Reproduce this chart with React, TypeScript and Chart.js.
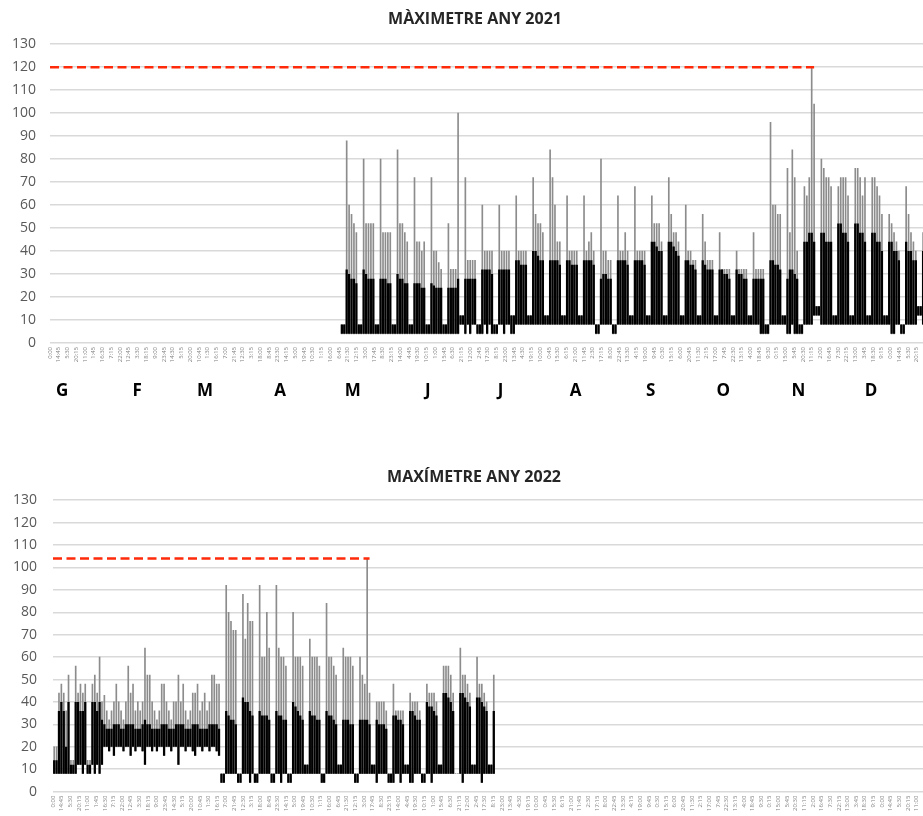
import React, { useEffect, useRef } from 'react';
import { Chart, registerables } from 'chart.js';

Chart.register(...registerables);

const FONT = "'Open Sans', 'DejaVu Sans', sans-serif";

// Calendar / axis labels
const MONTH_LETTERS = ['G', 'F', 'M', 'A', 'M', 'J', 'J', 'A', 'S', 'O', 'N', 'D'];
const MONTH_DAYS = [31, 28, 31, 30, 31, 30, 31, 31, 30, 31, 30, 31];
const DAYS_IN_YEAR = 365;
const LABEL_STEP_QH = 347; // quarter-hours between two category labels
const Y_TICKS_MAX = 130;
const Y_TICKS_STEP = 10;

// ---- 2021 : daily values from 1 May (day 120), rows = weeks Sat..Fri ----
const START_2021 = 120;
const PEAK_2021 = [
  8, 8, 88, 60, 56, 52, 48,
  8, 8, 80, 52, 52, 52, 52,
  8, 8, 80, 48, 48, 48, 48,
  8, 8, 84, 52, 52, 48, 44,
  8, 8, 72, 44, 44, 40, 44,
  8, 8, 72, 40, 40, 35, 32,
  8, 8, 52, 32, 32, 32, 100,
  12, 12, 72, 36, 36, 36, 36,
  8, 8, 60, 40, 40, 40, 40,
  8, 8, 60, 40, 40, 40, 40,
  12, 12, 64, 40, 40, 40, 40,
  12, 12, 72, 56, 52, 52, 48,
  12, 12, 84, 72, 60, 44, 44,
  12, 12, 64, 40, 40, 40, 40,
  12, 12, 64, 40, 44, 48, 40,
  8, 8, 80, 40, 40, 36, 36,
  8, 8, 64, 40, 40, 48, 40,
  12, 12, 68, 40, 40, 40, 40,
  12, 12, 64, 52, 52, 52, 44,
  12, 12, 72, 56, 48, 48, 44,
  12, 12, 60, 40, 40, 36, 36,
  12, 12, 56, 44, 36, 36, 36,
  12, 12, 48, 32, 32, 32, 32,
  12, 12, 40, 32, 32, 32, 32,
  12, 12, 48, 32, 32, 32, 32,
  8, 8, 96, 60, 60, 56, 56,
  12, 12, 76, 48, 84, 72, 40,
  8, 8, 68, 64, 72, 120, 104,
  16, 16, 80, 76, 72, 72, 68,
  12, 12, 68, 72, 72, 72, 64,
  12, 12, 76, 76, 72, 64, 72,
  12, 12, 72, 72, 68, 64, 56,
  12, 12, 56, 52, 48, 44, 40,
  8, 8, 68, 56, 48, 44, 40,
  16, 16, 48, 40, 40, 36, 36,
];
const HIGH_2021 = [
  8, 8, 32, 30, 28, 28, 26,
  8, 8, 32, 30, 28, 28, 28,
  8, 8, 28, 28, 28, 26, 26,
  8, 8, 30, 28, 28, 26, 26,
  8, 8, 26, 26, 26, 24, 24,
  8, 8, 26, 25, 24, 24, 24,
  8, 8, 24, 24, 24, 24, 28,
  12, 12, 28, 28, 28, 28, 28,
  8, 8, 32, 32, 32, 32, 30,
  8, 8, 32, 32, 32, 32, 32,
  12, 12, 36, 36, 34, 34, 34,
  12, 12, 40, 40, 38, 36, 36,
  12, 12, 36, 36, 36, 36, 34,
  12, 12, 36, 36, 34, 34, 34,
  12, 12, 36, 36, 36, 36, 34,
  8, 8, 28, 30, 30, 28, 28,
  8, 8, 36, 36, 36, 36, 34,
  12, 12, 36, 36, 36, 36, 34,
  12, 12, 44, 44, 42, 40, 40,
  12, 12, 44, 44, 42, 40, 38,
  12, 12, 36, 36, 34, 34, 32,
  12, 12, 36, 34, 32, 32, 32,
  12, 12, 32, 32, 30, 30, 28,
  12, 12, 32, 30, 30, 28, 28,
  12, 12, 28, 28, 28, 28, 28,
  8, 8, 36, 36, 34, 34, 32,
  12, 12, 28, 32, 32, 30, 28,
  8, 8, 44, 44, 48, 48, 44,
  16, 16, 48, 48, 44, 44, 44,
  12, 12, 52, 52, 48, 48, 44,
  12, 12, 52, 52, 48, 48, 44,
  12, 12, 48, 48, 44, 44, 40,
  12, 12, 44, 44, 40, 40, 36,
  8, 8, 44, 40, 40, 36, 36,
  16, 16, 40, 40, 36, 36, 36,
];
const LOW_2021 = [
  4, 4, 4, 4, 4, 4, 4,
  4, 4, 4, 4, 4, 4, 4,
  4, 4, 4, 4, 4, 4, 4,
  4, 4, 4, 4, 4, 4, 4,
  4, 4, 4, 4, 4, 4, 4,
  4, 4, 4, 4, 4, 4, 4,
  4, 4, 4, 4, 4, 4, 4,
  8, 8, 4, 8, 4, 8, 8,
  4, 4, 4, 8, 4, 8, 4,
  4, 4, 8, 8, 4, 8, 8,
  4, 4, 8, 8, 8, 8, 8,
  8, 8, 8, 8, 8, 8, 8,
  8, 8, 8, 8, 8, 8, 8,
  8, 8, 8, 8, 8, 8, 8,
  8, 8, 8, 8, 8, 8, 8,
  4, 4, 8, 8, 8, 8, 8,
  4, 4, 8, 8, 8, 8, 8,
  8, 8, 8, 8, 8, 8, 8,
  8, 8, 8, 8, 8, 8, 8,
  8, 8, 8, 8, 8, 8, 8,
  8, 8, 8, 8, 8, 8, 8,
  8, 8, 8, 8, 8, 8, 8,
  8, 8, 8, 8, 8, 8, 8,
  8, 8, 8, 8, 8, 8, 8,
  8, 8, 8, 8, 8, 4, 4,
  4, 4, 8, 8, 8, 8, 8,
  8, 8, 4, 4, 8, 4, 4,
  4, 4, 8, 8, 8, 8, 12,
  12, 12, 8, 8, 8, 8, 8,
  8, 8, 8, 8, 8, 8, 8,
  8, 8, 8, 8, 8, 8, 8,
  8, 8, 8, 8, 8, 8, 8,
  8, 8, 8, 4, 4, 8, 8,
  4, 4, 8, 8, 8, 8, 8,
  12, 12, 8, 8, 8, 8, 8,
];

// ---- 2022 : daily values from 1 January (day 0), rows = weeks Sat..Fri ----
const START_2022 = 0;
const PEAK_2022 = [
  20, 20, 44, 48, 44, 36, 52,
  14, 14, 56, 44, 48, 44, 48,
  14, 14, 48, 52, 44, 60, 40,
  43, 36, 32, 36, 40, 48, 40,
  36, 32, 40, 56, 44, 48, 36,
  40, 36, 40, 64, 52, 52, 40,
  36, 32, 36, 48, 48, 40, 36,
  32, 40, 40, 52, 40, 48, 36,
  32, 36, 44, 44, 48, 36, 40,
  44, 36, 40, 52, 52, 48, 48,
  8, 8, 92, 80, 76, 72, 72,
  8, 8, 88, 68, 84, 76, 76,
  8, 8, 92, 60, 60, 80, 64,
  8, 8, 92, 64, 60, 60, 56,
  8, 8, 80, 60, 60, 60, 56,
  12, 12, 68, 60, 60, 60, 56,
  8, 8, 84, 60, 60, 56, 52,
  12, 12, 64, 60, 60, 60, 56,
  8, 8, 60, 52, 48, 104, 44,
  12, 12, 40, 40, 40, 40, 36,
  8, 8, 48, 36, 36, 36, 36,
  12, 12, 44, 40, 40, 40, 36,
  8, 8, 48, 44, 44, 44, 40,
  12, 12, 56, 56, 56, 52, 44,
  8, 8, 64, 52, 52, 48, 44,
  12, 12, 60, 48, 48, 44, 40,
  12, 12, 52,
];
const HIGH_2022 = [
  14, 14, 36, 40, 36, 20, 40,
  12, 12, 40, 40, 36, 36, 40,
  12, 12, 40, 40, 36, 40, 32,
  30, 28, 28, 28, 30, 30, 30,
  28, 28, 30, 30, 30, 30, 28,
  28, 28, 30, 32, 30, 30, 28,
  28, 28, 28, 30, 30, 30, 28,
  28, 28, 30, 30, 30, 30, 28,
  28, 28, 30, 30, 30, 28, 28,
  28, 28, 30, 30, 30, 30, 28,
  8, 8, 36, 34, 32, 32, 30,
  8, 8, 42, 40, 40, 36, 34,
  8, 8, 36, 34, 34, 34, 32,
  8, 8, 36, 34, 34, 32, 32,
  8, 8, 40, 38, 36, 34, 32,
  12, 12, 36, 34, 34, 32, 32,
  8, 8, 36, 34, 34, 32, 30,
  12, 12, 32, 32, 32, 30, 30,
  8, 8, 32, 32, 32, 32, 30,
  12, 12, 32, 30, 30, 30, 28,
  8, 8, 34, 34, 32, 32, 30,
  12, 12, 36, 36, 34, 32, 32,
  8, 8, 40, 38, 38, 36, 34,
  12, 12, 44, 44, 42, 40, 36,
  8, 8, 44, 44, 42, 40, 38,
  12, 12, 42, 42, 40, 38, 36,
  12, 12, 36,
];
const LOW_2022 = [
  8, 8, 8, 8, 8, 8, 8,
  8, 8, 8, 12, 12, 8, 12,
  8, 8, 12, 8, 12, 8, 12,
  20, 20, 18, 20, 16, 20, 20,
  20, 18, 20, 20, 16, 20, 18,
  20, 20, 18, 12, 20, 20, 18,
  20, 18, 20, 20, 16, 20, 20,
  18, 20, 20, 12, 20, 20, 18,
  20, 20, 18, 16, 20, 20, 18,
  20, 20, 18, 20, 20, 18, 16,
  4, 4, 8, 8, 8, 8, 8,
  4, 4, 8, 8, 8, 4, 8,
  4, 4, 8, 8, 8, 8, 8,
  4, 4, 8, 8, 4, 8, 8,
  4, 4, 8, 8, 8, 8, 8,
  8, 8, 8, 8, 8, 8, 8,
  4, 4, 8, 8, 8, 8, 8,
  8, 8, 8, 8, 8, 8, 8,
  4, 4, 8, 8, 8, 8, 8,
  8, 8, 4, 8, 8, 8, 8,
  4, 4, 4, 8, 8, 4, 8,
  8, 8, 4, 4, 8, 8, 8,
  4, 4, 8, 8, 4, 8, 8,
  8, 8, 8, 8, 8, 8, 8,
  8, 8, 8, 4, 8, 8, 8,
  8, 8, 8, 8, 4, 8, 8,
  8, 8, 8,
];

type Spec = {
  title: string;
  start: number;
  peak: number[];
  high: number[];
  low: number[];
  months: boolean;
  yWidth: number;
  yPad: number;
  rightSpace: number;
  titleBottom: number;
  xHeight: number;
};

function timeLabel(i: number): string {
  const q = (i * LABEL_STEP_QH) % 96;
  const h = Math.floor(q / 4);
  const m = (q % 4) * 15;
  return `${h}:${m.toString().padStart(2, '0')}`;
}

function labelTickDays(): number[] {
  const out: number[] = [];
  for (let i = 0; i * LABEL_STEP_QH < DAYS_IN_YEAR * 96; i++) out.push((i * LABEL_STEP_QH) / 96);
  return out;
}

function monthTickDays(): number[] {
  const out: number[] = [];
  let acc = 0;
  for (const d of MONTH_DAYS) {
    out.push(acc + 5);
    acc += d;
  }
  return out;
}

function makeChart(canvas: HTMLCanvasElement, spec: Spec) {
  const body: any[] = [];
  const spikes: any[] = [];
  for (let i = 0; i < spec.peak.length; i++) {
    const x = spec.start + i + 0.5;
    body.push({ x, y: [spec.low[i], spec.high[i]] });
    spikes.push({ x, y: [spec.low[i], spec.peak[i]] });
  }
  const maxVal = Math.max(...spec.peak);
  const maxIdx = spec.peak.indexOf(maxVal);
  const lineEnd = spec.start + maxIdx + 1.5;
  const tickDays = labelTickDays();
  const mDays = monthTickDays();

  const scales: any = {
    x: {
      type: 'linear',
      min: 0,
      max: DAYS_IN_YEAR,
      offset: false,
      weight: 0,
      grid: { display: false, drawTicks: false },
      border: { display: false },
      afterBuildTicks: (s: any) => {
        s.ticks = tickDays.map((v) => ({ value: v }));
      },
      afterFit: (s: any) => {
        s.height = spec.xHeight;
      },
      ticks: {
        autoSkip: false,
        minRotation: 90,
        maxRotation: 90,
        padding: 4,
        color: '#7f7f7f',
        font: { family: FONT, size: 6 },
        callback: (_v: any, i: number) => timeLabel(i),
      },
    },
    y: {
      min: 0,
      max: Y_TICKS_MAX,
      border: { display: false },
      grid: { color: '#d9d9d9', lineWidth: 1.5, drawTicks: false },
      afterFit: (s: any) => {
        s.width = spec.yWidth;
      },
      ticks: {
        stepSize: Y_TICKS_STEP,
        padding: spec.yPad,
        color: '#595959',
        font: { family: FONT, size: 14 },
      },
    },
    // empty right-hand spacer so the title is centred like the original
    yr: {
      position: 'right',
      min: 0,
      max: Y_TICKS_MAX,
      grid: { display: false, drawTicks: false },
      border: { display: false },
      ticks: { display: false },
      afterFit: (s: any) => {
        s.width = spec.rightSpace;
      },
    },
  };
  if (spec.months) {
    scales.m = {
      type: 'linear',
      position: 'bottom',
      min: 0,
      max: DAYS_IN_YEAR,
      offset: false,
      weight: 1,
      grid: { display: false, drawTicks: false },
      border: { display: false },
      afterBuildTicks: (s: any) => {
        s.ticks = mDays.map((v) => ({ value: v }));
      },
      afterFit: (s: any) => {
        s.height = 36;
      },
      ticks: {
        autoSkip: false,
        minRotation: 0,
        maxRotation: 0,
        padding: 8,
        color: '#000000',
        font: { family: FONT, size: 17, weight: 'bold' },
        callback: (_v: any, i: number) => MONTH_LETTERS[i],
      },
    };
  }

  return new Chart(canvas, {
    type: 'bar',
    data: {
      datasets: [
        {
          type: 'line',
          data: [
            { x: 0, y: maxVal },
            { x: lineEnd, y: maxVal },
          ],
          borderColor: '#ff2a0a',
          borderWidth: 2.5,
          borderDash: [9, 4.5],
          borderCapStyle: 'butt',
          pointRadius: 0,
          order: 0,
          xAxisID: 'x',
          yAxisID: 'y',
        } as any,
        {
          type: 'bar',
          data: body,
          backgroundColor: '#000000',
          barPercentage: 0.95,
          categoryPercentage: 1,
          grouped: false,
          order: 1,
          xAxisID: 'x',
          yAxisID: 'y',
        } as any,
        {
          type: 'bar',
          data: spikes,
          backgroundColor: '#8c8c8c',
          barThickness: 1,
          grouped: false,
          order: 2,
          xAxisID: 'x',
          yAxisID: 'y',
        } as any,
      ],
    },
    options: {
      animation: false,
      responsive: false,
      events: [],
      layout: { padding: { left: 0, right: 0, top: 0, bottom: 0 } },
      plugins: {
        legend: { display: false },
        tooltip: { enabled: false },
        title: {
          display: true,
          text: spec.title,
          color: '#262626',
          font: { family: FONT, size: 16, weight: 'bold' },
          padding: { top: 10, bottom: spec.titleBottom },
        },
      },
      scales,
    } as any,
  });
}

export default function App() {
  const topRef = useRef<HTMLCanvasElement | null>(null);
  const botRef = useRef<HTMLCanvasElement | null>(null);

  useEffect(() => {
    const charts: Chart[] = [];
    if (topRef.current) {
      charts.push(
        makeChart(topRef.current, {
          title: 'MÀXIMETRE ANY 2021',
          start: START_2021,
          peak: PEAK_2021,
          high: HIGH_2021,
          low: LOW_2021,
          months: true,
          yWidth: 50,
          yPad: 14,
          rightSpace: 16,
          titleBottom: 15,
          xHeight: 30,
        })
      );
    }
    if (botRef.current) {
      charts.push(
        makeChart(botRef.current, {
          title: 'MAXÍMETRE ANY 2022',
          start: START_2022,
          peak: PEAK_2022,
          high: HIGH_2022,
          low: LOW_2022,
          months: false,
          yWidth: 53,
          yPad: 16,
          rightSpace: 23,
          titleBottom: 13,
          xHeight: 20,
        })
      );
    }
    return () => charts.forEach((c) => c.destroy());
  }, []);

  return (
    <div
      style={{
        position: 'fixed',
        left: 0,
        top: 0,
        width: 923,
        height: 816,
        overflow: 'hidden',
        background: '#ffffff',
      }}
    >
      <canvas
        ref={topRef}
        width={950}
        height={409}
        style={{ position: 'absolute', left: 0, top: 0, width: 950, height: 409 }}
      />
      <canvas
        ref={botRef}
        width={948}
        height={358}
        style={{ position: 'absolute', left: 0, top: 458, width: 948, height: 358 }}
      />
    </div>
  );
}
